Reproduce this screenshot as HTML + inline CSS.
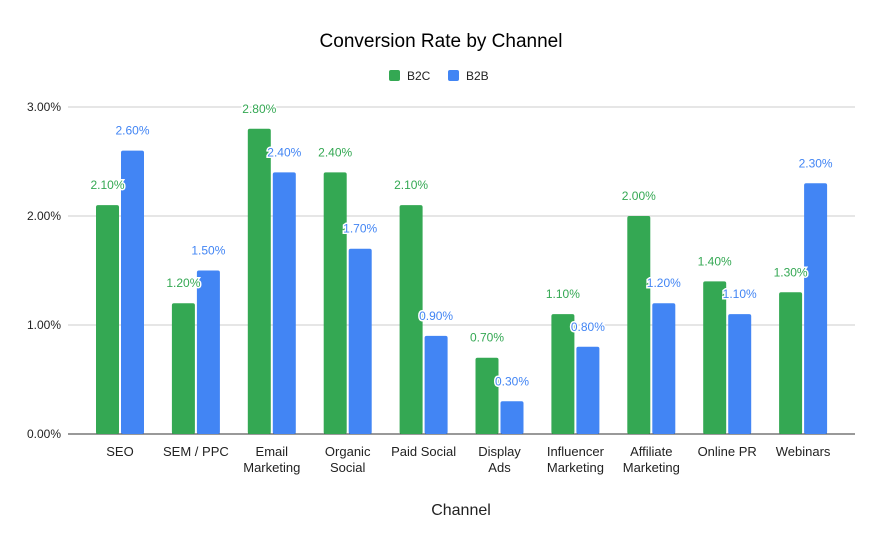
<!DOCTYPE html>
<html><head><meta charset="utf-8"><style>
body{margin:0;background:#fff;font-family:"Liberation Sans",Arial,sans-serif;}
svg text{font-family:"Liberation Sans",Arial,sans-serif;}
</style></head><body>
<svg id="chart" width="882" height="545">
<rect width="882" height="545" fill="#fff"/>
<text x="441" y="47" text-anchor="middle" font-size="19" fill="#000">Conversion Rate by Channel</text>
<g>
<rect x="389" y="70" width="11" height="11" rx="2" fill="#34a853"/>
<text x="407" y="80" font-size="12" fill="#222">B2C</text>
<rect x="448" y="70" width="11" height="11" rx="2" fill="#4285f4"/>
<text x="466" y="80" font-size="12" fill="#222">B2B</text>
</g>
<g id="grid"></g><g id="bars"></g><g id="labels"></g>
<text x="461" y="515" text-anchor="middle" font-size="16" fill="#222">Channel</text>
</svg>
<script>
const categories=[["SEO"],["SEM / PPC"],["Email","Marketing"],["Organic","Social"],["Paid Social"],["Display","Ads"],["Influencer","Marketing"],["Affiliate","Marketing"],["Online PR"],["Webinars"]];
const b2c=[2.1,1.2,2.8,2.4,2.1,0.7,1.1,2.0,1.4,1.3];
const b2b=[2.6,1.5,2.4,1.7,0.9,0.3,0.8,1.2,1.1,2.3];
const yTicks=[0,1,2,3];
const NS="http://www.w3.org/2000/svg";
const y0=434,pxPer=109,x0=120,step=75.9,bw=23;
const y=v=>y0-v*pxPer;
const xc=i=>x0+i*step;
function mk(tag,attrs,parent){const e=document.createElementNS(NS,tag);for(const k in attrs)e.setAttribute(k,attrs[k]);parent.appendChild(e);return e;}
const grid=document.getElementById('grid'),bars=document.getElementById('bars'),labels=document.getElementById('labels');
yTicks.forEach(t=>{
 const l=mk('line',{x1:68,x2:855,y1:y(t),y2:y(t),stroke:t===0?'#333':'#ccc','stroke-width':1},grid);
 
 
 const tx=mk('text',{x:61,y:y(t)+4,'text-anchor':'end','font-size':12,fill:'#222'},grid);
 tx.textContent=t.toFixed(2)+'%';
 
 
});
function series(vals,color,off,name){
 vals.forEach((v,i)=>{
  const x=xc(i)+off;
  const r=mk('rect',{x:x,y:y(v),width:bw,height:v*pxPer,rx:2,fill:color},bars);
  
  
  const t=mk('text',{x:x+bw/2,y:y(v)-16,'text-anchor':'middle','font-size':12,fill:color,stroke:'#fff','stroke-width':3,'paint-order':'stroke'},labels);
  t.textContent=v.toFixed(2)+'%';
  
  
 });
}
series(b2c,'#34a853',-24,'b2c');
series(b2b,'#4285f4',1,'b2b');
categories.forEach((c,i)=>{
 c.forEach((line,j)=>{
  const t=mk('text',{x:xc(i),y:456+j*16,'text-anchor':'middle','font-size':13,fill:'#222'},grid);
  t.textContent=line;
  
  
 });
});
</script>
</body></html>
